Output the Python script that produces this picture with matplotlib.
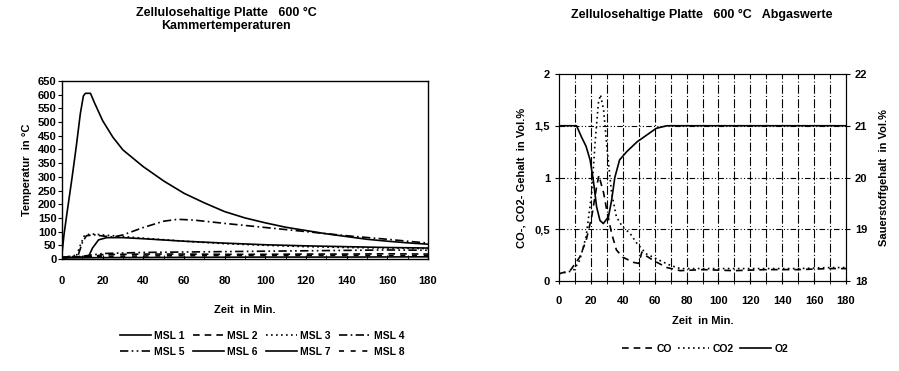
import matplotlib
matplotlib.use("Agg")
import matplotlib.pyplot as plt
import numpy as np

plt.rcParams['font.family'] = ['Liberation Sans', 'DejaVu Sans']
plt.rcParams['font.weight'] = 'bold'

# ---------------- left chart data (Kammertemperaturen) ----------------
t_msl1 = [0, 1, 2.5, 5, 7, 9, 10.5, 11.5, 14, 16, 20, 25, 30, 40, 50, 60, 70, 80, 90, 100, 110, 120, 130, 140, 150, 160, 170, 180]
v_msl1 = [20, 90, 170, 300, 410, 530, 595, 605, 605, 570, 505, 445, 398, 337, 285, 240, 205, 173, 150, 132, 116, 104, 92, 82, 72, 65, 59, 54]

t_msl2 = [0, 15, 20, 40, 60, 80, 100, 120, 140, 160, 180]
v_msl2 = [5, 8, 16, 18, 18, 17, 17, 18, 18, 19, 18]

t_msl3 = [0, 7, 9, 11, 14, 20, 30, 40, 60, 80, 100, 120, 140, 160, 180]
v_msl3 = [5, 10, 50, 85, 92, 88, 82, 76, 65, 56, 50, 45, 42, 40, 38]

t_msl4 = [0, 8, 10, 12, 16, 20, 25, 30, 40, 50, 57, 65, 80, 100, 120, 140, 160, 180]
v_msl4 = [5, 15, 60, 85, 88, 84, 80, 88, 115, 138, 145, 142, 130, 115, 100, 85, 72, 58]

t_msl5 = [0, 10, 20, 40, 80, 120, 160, 180]
v_msl5 = [5, 10, 20, 24, 27, 30, 33, 32]

t_msl6 = [0, 13, 15, 18, 22, 30, 40, 60, 80, 100, 120, 140, 160, 180]
v_msl6 = [5, 8, 40, 70, 78, 78, 74, 65, 58, 52, 48, 45, 42, 40]

t_msl7 = [0, 20, 60, 100, 140, 180]
v_msl7 = [4, 5, 6, 7, 7, 8]

t_msl8 = [0, 20, 60, 100, 140, 180]
v_msl8 = [6, 10, 12, 13, 13, 12]

left_xticks = [0, 20, 40, 60, 80, 100, 120, 140, 160, 180]
left_yticks = [0, 50, 100, 150, 200, 250, 300, 350, 400, 450, 500, 550, 600, 650]

# ---------------- right chart data (Abgaswerte) ----------------
t_co = [0, 7, 13, 17, 20.5, 23.6, 25, 28, 30, 33, 36, 40, 46.7, 50, 52, 55, 59, 67.6, 76, 90, 110, 130, 150, 170, 180]
v_co = [0.07, 0.1, 0.23, 0.39, 0.62, 0.91, 1.02, 0.85, 0.68, 0.46, 0.3, 0.23, 0.18, 0.17, 0.28, 0.24, 0.2, 0.13, 0.1, 0.11, 0.1, 0.11, 0.11, 0.12, 0.12]

t_co2 = [0, 9, 13, 17, 20.5, 22.6, 24.7, 26, 28, 30, 33, 36, 40, 44.6, 49, 55, 63, 70, 76, 90, 110, 130, 150, 170, 180]
v_co2 = [0.07, 0.1, 0.2, 0.43, 0.85, 1.33, 1.72, 1.8, 1.65, 1.3, 0.85, 0.62, 0.52, 0.46, 0.36, 0.26, 0.2, 0.15, 0.12, 0.12, 0.12, 0.12, 0.12, 0.13, 0.13]

t_o2 = [0, 8, 11, 14, 17, 19.5, 21.5, 23.6, 25.7, 27.8, 31, 33, 35, 38, 42.5, 49, 55, 61, 67.6, 100, 140, 180]
v_o2 = [21.0, 21.0, 21.0, 20.79, 20.6, 20.34, 19.95, 19.43, 19.17, 19.11, 19.24, 19.56, 20.0, 20.34, 20.5, 20.69, 20.82, 20.95, 21.0, 21.0, 21.0, 21.0]

right_xticks = [0, 20, 40, 60, 80, 100, 120, 140, 160, 180]
right_yticks = [0, 0.5, 1, 1.5, 2]
right_yticklabels = ["0", "0,5", "1", "1,5", "2"]
right_y2ticks = [18, 19, 20, 21, 22]
grid_x = [10, 20, 30, 40, 50, 60, 70, 80, 90, 100, 110, 120, 130, 140, 150, 160, 170]
grid_y = [0.5, 1, 1.5]

TICK = 8
LAB = 8
TITLE = 9

fig = plt.figure(figsize=(8.99, 3.71), dpi=100)

# ---------------- left axes ----------------
ax1 = fig.add_axes([62/899, 112/371, (428-62)/899, (290-112)/371])
lw = 1.2
l1, = ax1.plot(t_msl1, v_msl1, color='black', lw=lw, ls='-', label='MSL 1')
l2, = ax1.plot(t_msl2, v_msl2, color='black', lw=lw, ls=(0, (4, 3)), label='MSL 2')
l3, = ax1.plot(t_msl3, v_msl3, color='black', lw=lw, ls=(0, (1, 2)), label='MSL 3')
l4, = ax1.plot(t_msl4, v_msl4, color='black', lw=lw, ls=(0, (5, 2, 1, 2)), label='MSL 4')
l5, = ax1.plot(t_msl5, v_msl5, color='black', lw=lw, ls=(0, (5, 2, 1, 2, 1, 2)), label='MSL 5')
l6, = ax1.plot(t_msl6, v_msl6, color='black', lw=lw, ls='-', label='MSL 6')
l7, = ax1.plot(t_msl7, v_msl7, color='black', lw=lw, ls='-', label='MSL 7')
l8, = ax1.plot(t_msl8, v_msl8, color='black', lw=lw, ls=(0, (3, 4)), label='MSL 8')
ax1.set_xlim(0, 180)
ax1.set_ylim(0, 650)
ax1.set_xticks(left_xticks)
ax1.set_xticks(np.arange(0, 181, 10), minor=True)
ax1.set_yticks(left_yticks)
ax1.tick_params(axis='x', direction='in', length=3, labelsize=TICK, pad=12)
ax1.tick_params(axis='x', which='minor', direction='in', length=3)
ax1.tick_params(axis='y', direction='out', length=3, labelsize=TICK, pad=1)
for lab in ax1.get_xticklabels() + ax1.get_yticklabels():
    lab.set_fontweight('bold')
ax1.set_xlabel('Zeit  in Min.', fontsize=LAB, fontweight='bold', labelpad=14)
ax1.set_ylabel('Temperatur  in °C', fontsize=LAB, fontweight='bold', labelpad=4)
for s in ax1.spines.values():
    s.set_linewidth(1.0)
fig.text(226/899, 1 - 13/371, 'Zellulosehaltige Platte   600 °C', ha='center', va='center', fontsize=TITLE, fontweight='bold')
fig.text(226/899, 1 - 26/371, 'Kammertemperaturen', ha='center', va='center', fontsize=TITLE, fontweight='bold')

fig.legend(handles=[l1, l5, l2, l6, l3, l7, l4, l8], loc='center', ncol=4,
           bbox_to_anchor=(262/899, 1 - 344/371), frameon=False, fontsize=7.5,
           handlelength=3.0, handletextpad=0.3, columnspacing=0.8, labelspacing=0.6)

# ---------------- right axes ----------------
ax2 = fig.add_axes([559/899, 90/371, (846-559)/899, (297-90)/371])
for gx in grid_x:
    ax2.axvline(gx, color='black', lw=0.8, ls=(0, (8, 2, 1, 2)), zorder=1)
for gy in grid_y:
    ax2.axhline(gy, color='black', lw=0.8, ls=(0, (5, 2, 1, 2, 1, 2)), zorder=1)
c1, = ax2.plot(t_co, v_co, color='black', lw=lw, ls=(0, (4, 3)), label='CO', zorder=3)
c2, = ax2.plot(t_co2, v_co2, color='black', lw=lw, ls=(0, (1, 2)), label='CO2', zorder=3)
ax2.set_xlim(0, 180)
ax2.set_ylim(0, 2)
ax2.set_xticks(right_xticks)
ax2.set_xticks(np.arange(0, 181, 10), minor=True)
ax2.set_yticks(right_yticks)
ax2.set_yticklabels(right_yticklabels)
ax2.tick_params(axis='x', which='both', direction='inout', length=4, labelsize=TICK, pad=9)
ax2.tick_params(axis='y', direction='out', length=3, labelsize=TICK)
ax2.set_xlabel('Zeit  in Min.', fontsize=LAB, fontweight='bold', labelpad=7)
ax2.set_ylabel('CO-, CO2- Gehalt  in Vol.%', fontsize=LAB, fontweight='bold', labelpad=6)
ax3 = ax2.twinx()
c3, = ax3.plot(t_o2, v_o2, color='black', lw=lw, ls='-', label='O2', zorder=3)
ax3.set_ylim(18, 22)
ax3.set_yticks(right_y2ticks)
ax3.tick_params(axis='y', direction='out', length=3, labelsize=TICK)
ax3.set_ylabel('Sauerstoffgehalt  in Vol.%', fontsize=LAB, fontweight='bold', labelpad=8)
for lab in ax2.get_xticklabels() + ax2.get_yticklabels() + ax3.get_yticklabels():
    lab.set_fontweight('bold')
fig.text(702/899, 1 - 15/371, 'Zellulosehaltige Platte   600 °C   Abgaswerte', ha='center', va='center', fontsize=TITLE, fontweight='bold')

fig.legend(handles=[c1, c2, c3], loc='center', ncol=3,
           bbox_to_anchor=(705/899, 1 - 349/371), frameon=False, fontsize=7.5,
           handlelength=3.0, handletextpad=0.3, columnspacing=0.6)

fig.savefig('out.png', dpi=100)
